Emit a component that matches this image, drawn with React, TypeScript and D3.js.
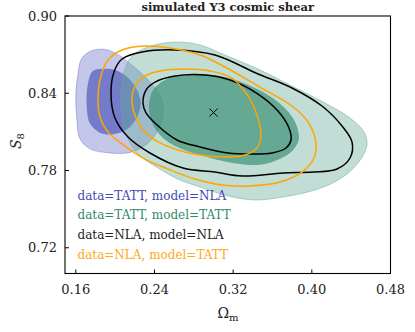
import React from "react";
import * as d3 from "d3";

// contour outlines [Omega_m, S8]
const tattNlaOuter = [
  [0.162, 0.854], [0.166, 0.867], [0.176, 0.873], [0.19, 0.874], [0.203, 0.87],
  [0.22, 0.86], [0.235, 0.849], [0.246, 0.838], [0.249, 0.827], [0.244, 0.812],
  [0.233, 0.801], [0.215, 0.794], [0.19, 0.794], [0.174, 0.797], [0.164, 0.805],
  [0.161, 0.821], [0.16, 0.839],
];
const tattNlaInner = [
  [0.172, 0.846], [0.177, 0.857], [0.187, 0.859], [0.2, 0.858], [0.213, 0.852],
  [0.222, 0.843], [0.226, 0.832], [0.222, 0.821], [0.212, 0.812], [0.197, 0.808],
  [0.183, 0.81], [0.174, 0.817], [0.171, 0.831],
];
const tattTattOuter = [
  [0.2059, 0.8348], [0.209, 0.8565], [0.2171, 0.8689], [0.2334, 0.8759], [0.2609, 0.8798],
  [0.2863, 0.8775], [0.3117, 0.8697], [0.3453, 0.8588], [0.3798, 0.8456], [0.4134, 0.8324],
  [0.4388, 0.8208], [0.4531, 0.8099], [0.4561, 0.7998], [0.447, 0.7858], [0.4286, 0.7734],
  [0.4032, 0.7649], [0.3707, 0.7594], [0.3422, 0.7571], [0.3148, 0.7602], [0.2863, 0.7672],
  [0.2659, 0.7726], [0.2436, 0.7819], [0.2212, 0.7944], [0.209, 0.813],
];
const tattTattInner = [
  [0.2344, 0.8309], [0.2385, 0.8425], [0.2507, 0.8503], [0.2761, 0.855], [0.3117, 0.8526],
  [0.3422, 0.8441], [0.3656, 0.8332], [0.3819, 0.8192], [0.387, 0.8052], [0.3839, 0.799],
  [0.3778, 0.7936], [0.3625, 0.7874], [0.3453, 0.7843], [0.3198, 0.7858], [0.2863, 0.792],
  [0.2609, 0.799], [0.2456, 0.8076], [0.2365, 0.8192],
];
const nlaNlaInner = [
  [0.2283, 0.8324], [0.2314, 0.8425], [0.2405, 0.8487], [0.2609, 0.8534], [0.2914, 0.8542],
  [0.3168, 0.8503], [0.3453, 0.8394], [0.3656, 0.8262], [0.3768, 0.813], [0.3788, 0.8037],
  [0.3737, 0.7975], [0.3595, 0.7936], [0.3371, 0.7928], [0.3148, 0.7936], [0.2863, 0.7983],
  [0.2629, 0.8037], [0.2415, 0.8161], [0.2314, 0.8247],
];
const nlaNlaOuter = [
  [0.1958, 0.8386], [0.1988, 0.8565], [0.207, 0.8666], [0.2273, 0.872], [0.2609, 0.8736],
  [0.3015, 0.8697], [0.3453, 0.855], [0.3798, 0.8441], [0.4103, 0.8301], [0.4307, 0.8146],
  [0.4409, 0.8021], [0.4388, 0.7897], [0.4256, 0.7812], [0.4012, 0.7788], [0.3707, 0.7781],
  [0.329, 0.7757], [0.3015, 0.7788], [0.269, 0.7819], [0.2354, 0.7936], [0.2131, 0.806],
  [0.1998, 0.8208],
];
const nlaTattInner = [
  [0.2171, 0.8348], [0.2202, 0.8456], [0.2304, 0.8534], [0.2456, 0.8573], [0.271, 0.8588],
  [0.2964, 0.8573], [0.3188, 0.8518], [0.3351, 0.8379], [0.3442, 0.8231], [0.3483, 0.8076],
  [0.3442, 0.7975], [0.332, 0.792], [0.3117, 0.7905], [0.2863, 0.792], [0.2609, 0.7967],
  [0.2375, 0.8052], [0.2232, 0.8177],
];
const nlaTattOuter = [
  [0.1826, 0.8309], [0.1846, 0.8503], [0.1927, 0.8658], [0.207, 0.8736], [0.2304, 0.8767],
  [0.2558, 0.8751], [0.2863, 0.8697], [0.3117, 0.8604], [0.3453, 0.8456], [0.3798, 0.8301],
  [0.3961, 0.8177], [0.4042, 0.8014], [0.4022, 0.7897], [0.39, 0.7788], [0.3676, 0.7711],
  [0.3351, 0.768], [0.3086, 0.7687], [0.2812, 0.7734], [0.2537, 0.7812], [0.2304, 0.7889],
  [0.21, 0.799], [0.1927, 0.8099], [0.1846, 0.8216],
];
const fiducial = [0.3, 0.825];

const xTicks = [0.16, 0.24, 0.32, 0.4, 0.48];
const yTicks = [0.72, 0.78, 0.84, 0.9];
const legendLabels = [
  "data=TATT, model=NLA",
  "data=TATT, model=TATT",
  "data=NLA, model=NLA",
  "data=NLA, model=TATT",
];
const legendColors = ["#3f49b3", "#2f8a6b", "#222222", "#ffa820"];

const W = 415;
const H = 332;
const margin = { top: 16, right: 24.5, bottom: 58.5, left: 65 };

export default function App() {
  const x = d3.scaleLinear().domain([0.149, 0.48]).range([margin.left, W - margin.right]);
  const y = d3.scaleLinear().domain([0.7, 0.9]).range([H - margin.bottom, margin.top]);
  const line = d3
    .line<number[]>()
    .x((d) => x(d[0]))
    .y((d) => y(d[1]))
    .curve(d3.curveCatmullRomClosed.alpha(0.5));
  const path = (pts: number[][]) => line(pts) || "";

  const x0 = margin.left;
  const x1 = W - margin.right;
  const y0 = margin.top;
  const y1 = H - margin.bottom;
  const font = "'DejaVu Serif', serif";

  return (
    <svg width={W} height={H} style={{ position: "absolute", left: 0, top: 0 }} fontFamily={font}>
      <defs>
        <clipPath id="plot">
          <rect x={x0} y={y0} width={x1 - x0} height={y1 - y0} />
        </clipPath>
      </defs>
      <g clipPath="url(#plot)">
        <path d={path(tattNlaOuter)} fill="rgb(100,106,200)" fillOpacity={0.38} stroke="rgb(100,106,200)" strokeOpacity={0.55} strokeWidth={0.8} />
        <path d={path(tattNlaInner)} fill="rgb(85,95,188)" fillOpacity={0.72} />
        <path d={path(tattTattOuter)} fill="rgb(100,170,150)" fillOpacity={0.4} stroke="rgb(100,170,150)" strokeOpacity={0.6} strokeWidth={0.8} />
        <path d={path(tattTattInner)} fill="rgb(70,150,125)" fillOpacity={0.75} />
        <path d={path(nlaNlaOuter)} fill="none" stroke="#000" strokeWidth={1.5} />
        <path d={path(nlaNlaInner)} fill="none" stroke="#000" strokeWidth={1.5} />
        <path d={path(nlaTattOuter)} fill="none" stroke="#ffa500" strokeWidth={1.5} />
        <path d={path(nlaTattInner)} fill="none" stroke="#ffa500" strokeWidth={1.5} />
        <g stroke="#000" strokeWidth={1}>
          <line x1={x(fiducial[0]) - 4} x2={x(fiducial[0]) + 4} y1={y(fiducial[1]) - 4} y2={y(fiducial[1]) + 4} />
          <line x1={x(fiducial[0]) - 4} x2={x(fiducial[0]) + 4} y1={y(fiducial[1]) + 4} y2={y(fiducial[1]) - 4} />
        </g>
      </g>

      {legendLabels.map((t, i) => (
        <text key={t} x={x0 + 12.5} y={199.5 + i * 19.8} fontSize={12} fill={legendColors[i]}>
          {t}
        </text>
      ))}

      <rect x={x0} y={y0} width={x1 - x0} height={y1 - y0} fill="none" stroke="#000" strokeWidth={1.1} />

      {xTicks.map((t) => (
        <g key={t}>
          <line x1={x(t)} x2={x(t)} y1={y1} y2={y1 - 4} stroke="#000" strokeWidth={1} />
          <text x={x(t)} y={294} fontSize={13} textAnchor="middle" fill="#222">
            {t.toFixed(2)}
          </text>
        </g>
      ))}
      {yTicks.map((t) => (
        <g key={t}>
          <line x1={x0} x2={x0 + 4} y1={y(t)} y2={y(t)} stroke="#000" strokeWidth={1} />
          <text x={57} y={y(t)} dy="0.35em" fontSize={13} textAnchor="end" fill="#222">
            {t.toFixed(2)}
          </text>
        </g>
      ))}

      <text x={(x0 + x1) / 2} y={11} fontSize={11.5} fontWeight="bold" textAnchor="middle" fill="#222">
        simulated Y3 cosmic shear
      </text>
      <text x={228} y={318} fontSize={14} textAnchor="middle" fill="#222">
        Ω<tspan fontSize={10} dy={3}>m</tspan>
      </text>
      <text transform="translate(21,141) rotate(-90)" fontSize={14} textAnchor="middle" fill="#222">
        <tspan fontStyle="italic">S</tspan>
        <tspan fontSize={10} dy={3}>8</tspan>
      </text>
    </svg>
  );
}
